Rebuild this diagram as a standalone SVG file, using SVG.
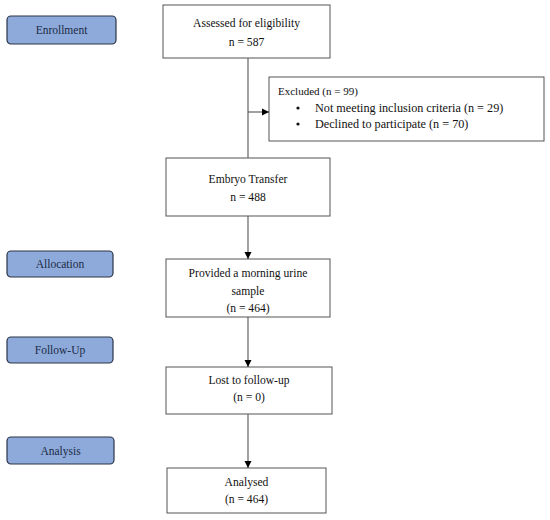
<svg xmlns="http://www.w3.org/2000/svg" width="550" height="520" viewBox="0 0 550 520">
<defs>
<marker id="ah" markerWidth="8" markerHeight="8" refX="7" refY="4" orient="auto" markerUnits="userSpaceOnUse">
<path d="M0,0.5 L7,4 L0,7.5 Z" fill="#000"/>
</marker>
<style>
.stage rect{fill:#8eaadb;stroke:#2b3447;stroke-width:1.2}
.stage text{font-family:"Liberation Serif","DejaVu Serif",serif;font-size:11.5px;fill:#1c2a45;text-anchor:middle}
.box rect{fill:#fff;stroke:#555;stroke-width:1}
.box text{font-family:"Liberation Serif","DejaVu Serif",serif;font-size:11.6px;fill:#111;text-anchor:middle}
.box text.hd{font-size:11px}
.box text.bl{font-size:12.2px;text-anchor:start}
.conn line{stroke:#555;stroke-width:1.1;marker-end:url(#ah)}
</style>
</defs>
<rect width="550" height="520" fill="#fff"/>
<g id="enrollment" class="stage"><rect x="7" y="16" width="109" height="28" rx="4"/><text x="61.5" y="34">Enrollment</text></g>
<g id="allocation" class="stage"><rect x="7" y="251" width="106" height="26" rx="4"/><text x="60" y="268">Allocation</text></g>
<g id="followup" class="stage"><rect x="7" y="337" width="106" height="26" rx="4"/><text x="60" y="354">Follow-Up</text></g>
<g id="analysis" class="stage"><rect x="7" y="437" width="107" height="27" rx="4"/><text x="60.5" y="455">Analysis</text></g>

<g id="assessed" class="box"><rect x="163" y="5" width="167" height="53"/><text x="246.5" y="27">Assessed for eligibility</text><text x="246.5" y="46">n = 587</text></g>
<g id="excluded" class="box"><rect x="269" y="77" width="275" height="64"/>
<text x="278" y="95" class="hd" style="text-anchor:start">Excluded (n = 99)</text>
<circle cx="298" cy="108" r="1.6" fill="#111"/>
<text x="315" y="112" class="bl">Not meeting inclusion criteria (n = 29)</text>
<circle cx="298" cy="124" r="1.6" fill="#111"/>
<text x="315" y="128" class="bl">Declined to participate (n = 70)</text></g>
<g id="embryo" class="box"><rect x="166" y="158" width="164" height="58"/><text x="248" y="183">Embryo Transfer</text><text x="248" y="201">n = 488</text></g>
<g id="provided" class="box"><rect x="166" y="259" width="164" height="58"/><text x="248" y="277">Provided a morning urine</text><text x="248" y="295">sample</text><text x="248" y="312">(n = 464)</text></g>
<g id="lost" class="box"><rect x="166" y="367" width="166" height="47"/><text x="249" y="384">Lost to follow-up</text><text x="249" y="401">(n = 0)</text></g>
<g id="analysed" class="box"><rect x="167" y="468" width="159" height="45"/><text x="246.5" y="486">Analysed</text><text x="246.5" y="503">(n = 464)</text></g>

<g id="connectors" class="conn">
<line x1="248" y1="58" x2="248" y2="158" style="marker-end:none"/>
<line x1="248" y1="112" x2="269" y2="112"/>
<line x1="248" y1="216" x2="248" y2="259"/>
<line x1="248" y1="317" x2="248" y2="367"/>
<line x1="248" y1="414" x2="248" y2="468"/>
</g>
</svg>
